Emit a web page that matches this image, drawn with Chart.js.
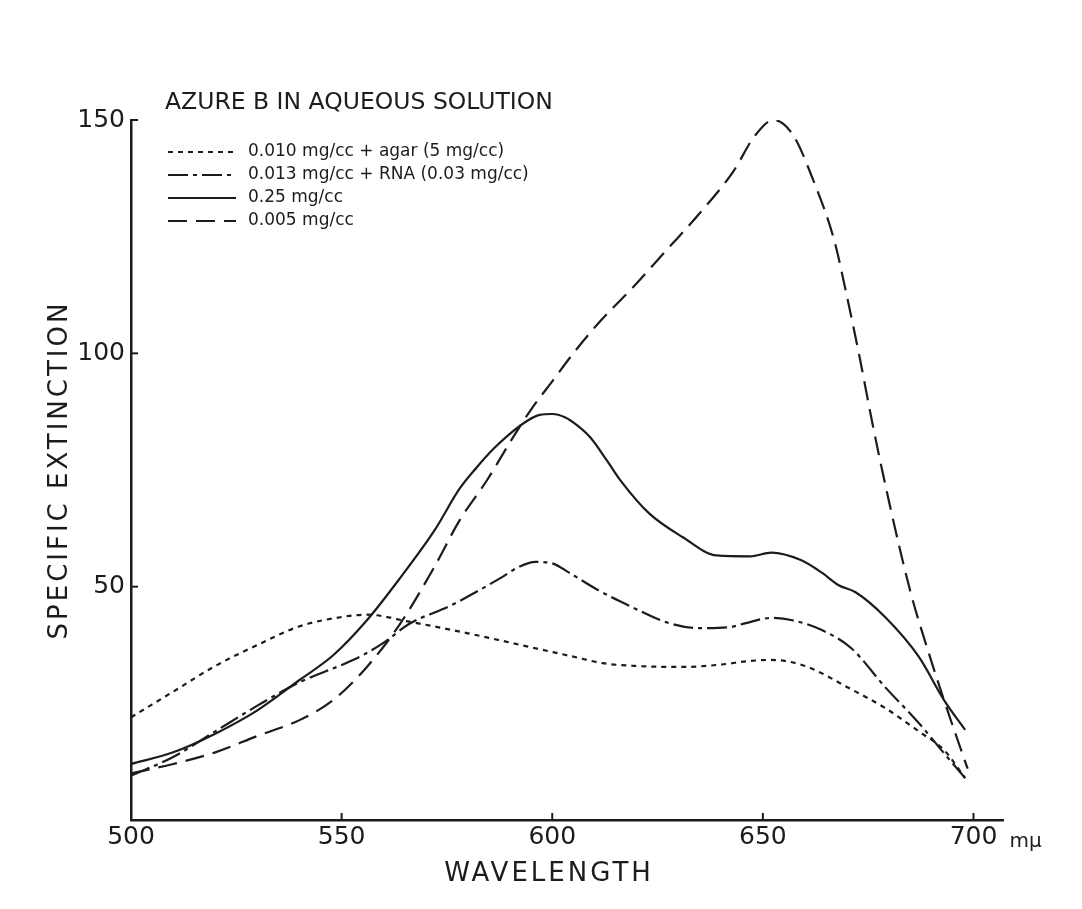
<!DOCTYPE html>
<html><head><meta charset="utf-8">
<script src="https://cdn.jsdelivr.net/npm/chart.js@4.4.0/dist/chart.umd.min.js"></script>
<style>html,body{margin:0;padding:0;background:#fff;}#wrap{width:1082px;height:909px;}</style>
</head><body><div id="wrap"><canvas id="c" width="1082" height="909"></canvas></div>
<script>
const chartTitle = 'AZURE B IN AQUEOUS SOLUTION';
const xAxisTitle = 'WAVELENGTH';
const yAxisTitle = 'SPECIFIC EXTINCTION';
const xUnit = 'mμ';
const xTicks = [500, 550, 600, 650, 700];
const yTicks = [50, 100, 150];
const seriesLabels = ['0.010 mg/cc + agar (5 mg/cc)', '0.013 mg/cc + RNA (0.03 mg/cc)', '0.25 mg/cc', '0.005 mg/cc'];

const agarWavelength = [500,510,520,530,540,550,556,566,580,595,605,612,620,631,640,646,652,660,671,679,687,693,698];
const agarValues     = [22,27.5,33,37.5,41.5,43.5,44,42.5,40,37,35,33.6,33,32.8,33.3,34,34.3,33,28,24,19,15,9];

const rnaWavelength = [500,510,520,530,540,551,555,560,566,576,588,592,596,600,604,611,619,627,635,642,646,652,657,664,671,679,687,693,698];
const rnaValues     = [9.5,13.5,19,24.5,29.5,33.6,35.3,38,42,46,52,54.2,55.3,55,53,49.2,45.6,42.4,41.1,41.3,42.2,43.3,42.8,40.7,36.8,28.5,20.8,14.3,9];

const conc025Wavelength = [500,510,520,530,540,548,556,564,572,578,582,586,590,594,597,600,603,606,609,613,616,623,631,639,647,652,659,664,668,672,679,687,693,698];
const conc025Values     = [12,14.5,18.5,23.5,30,35.3,42.8,52,62,71,75.5,79.5,82.8,85.5,86.8,87,86.3,84.5,82,77,73,65.7,60.6,56.7,56.5,57.3,55.7,53,50.3,48.8,43.5,35,25.7,19.3];

const conc0005Wavelength = [500,510,520,530,540,548,556,564,572,578,584.5,590,595,600,605,611,619,627,635,643,648,652.5,657,662,667,670,673,676,680,685,690,694,698.6];
const conc0005Values     = [10,12,14.5,18,21.4,25.7,32.8,42.2,54.2,64.2,72.8,81,88,94,100,106.5,114,122,130,139,146.5,150,147,137,124,112,99,85,68,49,34,23,11];

const ink = '#1c1c1c';
const FONT = "'DejaVu Sans', sans-serif";
const toPts = (xs, ys) => xs.map((x, i) => ({x: x, y: ys[i]}));

function ds(label, xs, ys, dash) {
  return {label: label, data: toPts(xs, ys), borderColor: ink, borderWidth: 2.2,
    borderDash: dash, pointRadius: 0, fill: false, cubicInterpolationMode: 'monotone'};
}

const paperText = {
  id: 'paperText',
  afterDraw(chart) {
    const ctx = chart.ctx, xs = chart.scales.x, ys = chart.scales.y, a = chart.chartArea;
    ctx.save();
    ctx.fillStyle = ink; ctx.strokeStyle = ink;
    ctx.lineWidth = 2;
    xTicks.forEach(v => { if (v === xs.min) return; const px = xs.getPixelForValue(v);
      ctx.beginPath(); ctx.moveTo(px, a.bottom); ctx.lineTo(px, a.bottom - 7); ctx.stroke(); });
    yTicks.forEach(v => { const py = ys.getPixelForValue(v);
      ctx.beginPath(); ctx.moveTo(a.left, py); ctx.lineTo(a.left + 7, py); ctx.stroke(); });
    ctx.textBaseline = 'middle'; ctx.textAlign = 'left';
    ctx.font = '23.5px ' + FONT;
    ctx.fillText(chartTitle, 165, 103);
    ctx.font = '17px ' + FONT;
    const rows = [152, 175, 198, 221];
    chart.data.datasets.forEach((d, i) => {
      ctx.save();
      ctx.lineWidth = 2; ctx.setLineDash(d.borderDash || []);
      ctx.beginPath(); ctx.moveTo(168, rows[i]); ctx.lineTo(236, rows[i]); ctx.stroke();
      ctx.restore();
      ctx.fillText(d.label, 248, rows[i]);
    });
    ctx.font = '20px ' + FONT;
    ctx.fillText(xUnit, xs.getPixelForValue(700) + 36, 842);
    ctx.letterSpacing = '3px';
    ctx.font = '26px ' + FONT;
    ctx.textAlign = 'center';
    ctx.fillText(xAxisTitle, 549, 874);
    ctx.translate(60, (a.top + a.bottom) / 2);
    ctx.rotate(-Math.PI / 2);
    ctx.fillText(yAxisTitle, 0, 0);
    ctx.restore();
  }
};

new Chart(document.getElementById('c'), {
  type: 'line',
  data: {datasets: [
    ds(seriesLabels[0], agarWavelength, agarValues, [5, 5]),
    ds(seriesLabels[1], rnaWavelength, rnaValues, [20, 5, 4, 5]),
    ds(seriesLabels[2], conc025Wavelength, conc025Values, []),
    ds(seriesLabels[3], conc0005Wavelength, conc0005Values, [19, 9])
  ]},
  options: {
    responsive: false, animation: false, devicePixelRatio: 1,
    layout: {padding: {top: 120, right: 79, bottom: 0, left: 0}},
    plugins: {legend: {display: false}, tooltip: {enabled: false}, title: {display: false}},
    scales: {
      x: {type: 'linear', min: 500, max: 707,
        afterBuildTicks: s => { s.ticks = xTicks.map(v => ({value: v})); },
        afterFit: s => { s.height = 89; },
        grid: {display: false, drawTicks: false},
        border: {display: true, color: ink, width: 2.5},
        ticks: {color: ink, font: {family: FONT, size: 25}, padding: 2, maxRotation: 0, autoSkip: false}
      },
      y: {min: 0, max: 150,
        afterBuildTicks: s => { s.ticks = yTicks.map(v => ({value: v})); },
        afterFit: s => { s.width = 131; },
        grid: {display: false, drawTicks: false},
        border: {display: true, color: ink, width: 2.5},
        ticks: {color: ink, font: {family: FONT, size: 25}, padding: 6}
      }
    }
  },
  plugins: [paperText]
});
</script></body></html>
